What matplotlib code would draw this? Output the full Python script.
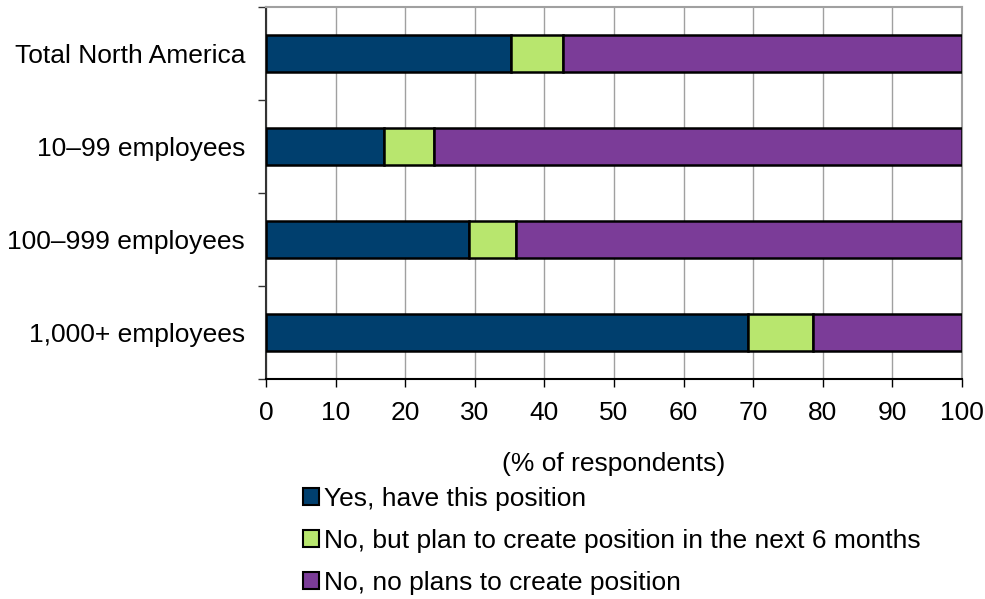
import matplotlib
matplotlib.use('Agg')
import matplotlib.pyplot as plt
from matplotlib.patches import Patch
import numpy as np

plt.rcParams['font.family'] = ['Liberation Sans', 'DejaVu Sans']

categories = ['Total North America', '10\u201399 employees', '100\u2013999 employees', '1,000+ employees']
yes_have = [35.2, 17.0, 29.2, 69.2]
plan_create = [7.5, 7.2, 6.7, 9.4]
no_plans = [57.3, 75.8, 64.1, 21.4]

series_names = ['Yes, have this position',
                'No, but plan to create position in the next 6 months',
                'No, no plans to create position']
colors = ['#003f6e', '#b8e66e', '#7b3c98']

fig = plt.figure(figsize=(9.85, 5.99), dpi=100)
ax = fig.add_axes([0.270, 0.3673, 0.7066, 0.621])

y = np.arange(len(categories))
left = np.zeros(len(categories))
for vals, col, name in zip([yes_have, plan_create, no_plans], colors, series_names):
    ax.barh(y, vals, left=left, height=0.4, color=col, edgecolor='black',
            linewidth=1.8, label=name, zorder=3)
    left = left + np.array(vals)

ax.set_xlim(0, 100)
ax.set_ylim(len(categories) - 0.5, -0.5)
ax.set_xticks(np.arange(0, 101, 10))
ax.tick_params(axis='x', labelsize=19, length=6, width=1, color='black', pad=10)
ax.set_yticks(y)
ax.set_yticklabels(categories)
ax.tick_params(axis='y', which='major', length=0, labelsize=19, pad=15)
ax.set_yticks(np.arange(-0.5, len(categories), 1), minor=True)
ax.tick_params(axis='y', which='minor', length=6, width=1, color='#333333')
ax.xaxis.grid(True, color='#a0a0a0', linewidth=1, zorder=0)
ax.set_axisbelow(True)

for s in ['top', 'right']:
    ax.spines[s].set_color('#a0a0a0')
    ax.spines[s].set_linewidth(1.5)
ax.spines['left'].set_color('#333333')
ax.spines['left'].set_linewidth(1.5)
ax.spines['bottom'].set_color('black')
ax.spines['bottom'].set_linewidth(1.5)

ax.set_xlabel('(% of respondents)', fontsize=19, labelpad=19)

handles = [Patch(facecolor=c, edgecolor='black', linewidth=1.5) for c in colors]
fig.legend(handles, series_names, loc='upper left', bbox_to_anchor=(0.308, 0.187),
           frameon=False, fontsize=19, handlelength=0.6, handleheight=0.6,
           handletextpad=0.2, labelspacing=0.68, borderpad=0, borderaxespad=0)

fig.savefig('out.png', dpi=100)
